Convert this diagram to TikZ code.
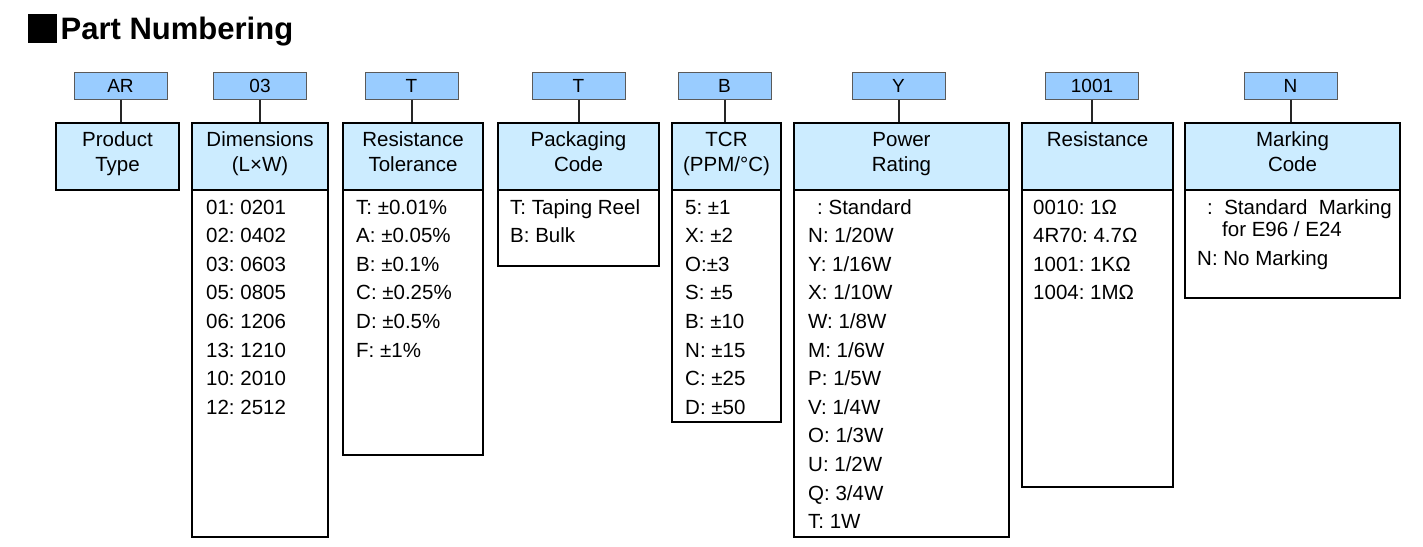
\documentclass[tikz,border=0pt]{standalone}
\usepackage{fontspec}
\setmainfont{Liberation Sans}
\frenchspacing
\definecolor{codefill}{RGB}{153,204,255}
\definecolor{hdrfill}{RGB}{204,236,255}
\definecolor{codeline}{RGB}{90,90,90}
\begin{document}
\frenchspacing
\begin{tikzpicture}[x=1pt,y=-1pt,
  codebox/.style={draw=codeline, line width=1pt, fill=codefill, minimum width=93pt, minimum height=27pt, inner sep=0pt, text height=13.6pt, text depth=0pt, font=\fontsize{19}{22}\selectfont},
  hdrbox/.style={draw=black, line width=2pt, fill=hdrfill, inner sep=0pt, anchor=north west, minimum height=67pt},
  listbox/.style={draw=black, line width=2pt, fill=white, inner sep=0pt, anchor=north west},
  hdrtxt/.style={anchor=base, inner sep=0pt, font=\fontsize{20.5}{24}\selectfont\frenchspacing},
  itm/.style={anchor=base west, inner sep=0pt, font=\fontsize{20.5}{24}\selectfont\frenchspacing},
  conn/.style={draw=black!85, line width=2pt}]
\useasboundingbox (0,0) rectangle (1423,546);
\fill[white] (0,0) rectangle (1423,546);

% title
\node[fill=black, minimum width=28.7pt, minimum height=29.4pt, inner sep=0pt, anchor=north west] (sq) at (28,13.3) {};
\node[anchor=base west, inner sep=0pt, font=\bfseries\fontsize{31}{36}\selectfont] (title) at (60.5,39.3) {Part Numbering};

% list boxes
\node[listbox, minimum width=136pt, minimum height=347pt] (l2) at (191,189) {};
\node[listbox, minimum width=140pt, minimum height=265pt] (l3) at (342,189) {};
\node[listbox, minimum width=161pt, minimum height=76pt]  (l4) at (497,189) {};
\node[listbox, minimum width=109pt, minimum height=232pt] (l5) at (671,189) {};
\node[listbox, minimum width=215pt, minimum height=347pt] (l6) at (793,189) {};
\node[listbox, minimum width=151pt, minimum height=297pt] (l7) at (1021,189) {};
\node[listbox, minimum width=215pt, minimum height=108pt] (l8) at (1184,189) {};

% header boxes
\node[hdrbox, minimum width=123pt] (h1) at (55,122) {};
\node[hdrbox, minimum width=136pt] (h2) at (191,122) {};
\node[hdrbox, minimum width=140pt] (h3) at (342,122) {};
\node[hdrbox, minimum width=161pt] (h4) at (497,122) {};
\node[hdrbox, minimum width=109pt] (h5) at (671,122) {};
\node[hdrbox, minimum width=215pt] (h6) at (793,122) {};
\node[hdrbox, minimum width=151pt] (h7) at (1021,122) {};
\node[hdrbox, minimum width=215pt] (h8) at (1184,122) {};

% header texts
\coordinate (r1) at (0,146.5);
\coordinate (r2) at (0,171);
\node[hdrtxt] (t1a) at (h1.north |- r1) {Product};
\node[hdrtxt] (t1b) at (h1.north |- r2) {Type};
\node[hdrtxt] (t2a) at (h2.north |- r1) {Dimensions};
\node[hdrtxt] (t2b) at (h2.north |- r2) {(L×W)};
\node[hdrtxt] (t3a) at (h3.north |- r1) {Resistance};
\node[hdrtxt] (t3b) at (h3.north |- r2) {Tolerance};
\node[hdrtxt] (t4a) at (h4.north |- r1) {Packaging};
\node[hdrtxt] (t4b) at (h4.north |- r2) {Code};
\node[hdrtxt] (t5a) at (h5.north |- r1) {TCR};
\node[hdrtxt] (t5b) at (h5.north |- r2) {(PPM/°C)};
\node[hdrtxt] (t6a) at (h6.north |- r1) {Power};
\node[hdrtxt] (t6b) at (h6.north |- r2) {Rating};
\node[hdrtxt] (t7a) at (h7.north |- r1) {Resistance};
\node[hdrtxt] (t8a) at (h8.north |- r1) {Marking};
\node[hdrtxt] (t8b) at (h8.north |- r2) {Code};

% code boxes
\node[codebox] (c1) at (120.5,85.5) {AR};
\node[codebox] (c2) at (260,85.5) {03};
\node[codebox] (c3) at (411.5,85.5) {T};
\node[codebox] (c4) at (578.5,85.5) {T};
\node[codebox] (c5) at (724.5,85.5) {B};
\node[codebox] (c6) at (898.5,85.5) {Y};
\node[codebox] (c7) at (1092,85.5) {1001};
\node[codebox] (c8) at (1290.5,85.5) {N};

% connectors
\foreach \k in {1,...,8}{
  \draw[conn] (c\k.south) -- (c\k.south |- h\k.north);
}

% list items
\foreach \t [count=\i from 0] in {01: 0201, 02: 0402, 03: 0603, 05: 0805, 06: 1206, 13: 1210, 10: 2010, 12: 2512}
  \node[itm] (dim\i) at (206,214+28.6*\i) {\t};
\foreach \t [count=\i from 0] in {T: ±0.01\%, A: ±0.05\%, B: ±0.1\%, C: ±0.25\%, D: ±0.5\%, F: ±1\%}
  \node[itm] (tol\i) at (356,214+28.6*\i) {\t};
\foreach \t [count=\i from 0] in {T: Taping Reel, B: Bulk}
  \node[itm] (pkg\i) at (510,214+28.6*\i) {\t};
\foreach \t [count=\i from 0] in {5: ±1, X: ±2, O:±3, S: ±5, B: ±10, N: ±15, C: ±25, D: ±50}
  \node[itm] (tcr\i) at (685,214+28.6*\i) {\t};
\node[itm] (pwr0) at (817,214) {: Standard};
\foreach \t [count=\i from 1] in {N: 1/20W, Y: 1/16W, X: 1/10W, W: 1/8W, M: 1/6W, P: 1/5W, V: 1/4W, O: 1/3W, U: 1/2W, Q: 3/4W, T: 1W}
  \node[itm] (pwr\i) at (808,214+28.6*\i) {\t};
\foreach \t [count=\i from 0] in {0010: 1Ω, 4R70: 4.7Ω, 1001: 1KΩ, 1004: 1MΩ}
  \node[itm] (res\i) at (1033,214+28.6*\i) {\t};
\node[itm] (mk0) at (1207,214) {:\ \ Standard\ \ Marking};
\node[itm] (mk1) at (1222,236.5) {for E96 / E24};
\node[itm] (mk2) at (1197,265) {N: No Marking};
\end{tikzpicture}
\end{document}
